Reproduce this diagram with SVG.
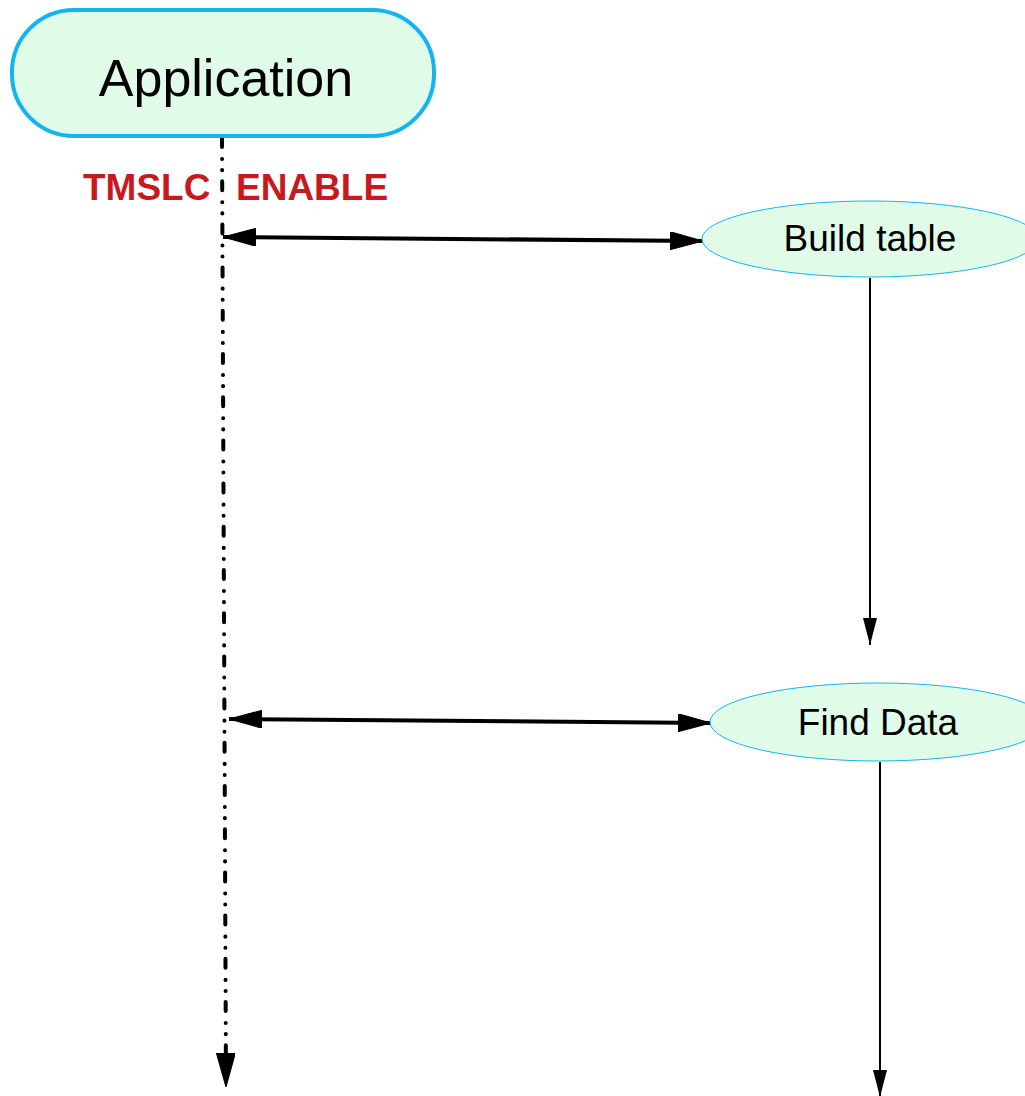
<svg xmlns="http://www.w3.org/2000/svg" width="1025" height="1096" viewBox="0 0 1025 1096">
<style>
.node{fill:#e0fce8;stroke:#14b4f0}
.lbl{font-family:"Liberation Sans",Arial,sans-serif;fill:#000;text-anchor:middle}
.red{font-family:"Liberation Sans",Arial,sans-serif;font-weight:bold;fill:#c8191e;font-size:37px}
.big{stroke:#000;stroke-width:4;fill:none}
.thin{stroke:#000;stroke-width:2;fill:none}
</style>
<defs>
<marker id="hb" markerUnits="userSpaceOnUse" viewBox="0 0 33 18" refX="33" refY="9" markerWidth="33" markerHeight="18" orient="auto-start-reverse">
<path d="M0,0 L33,9 L0,18 Z" fill="#000" stroke="#000" stroke-width="1" stroke-linejoin="round"/>
</marker>
<marker id="hs" markerUnits="userSpaceOnUse" viewBox="0 0 27 14" refX="27" refY="7" markerWidth="27" markerHeight="14" orient="auto">
<path d="M0,0 L27,7 L0,14 Z" fill="#000"/>
</marker>
<marker id="hl" markerUnits="userSpaceOnUse" viewBox="0 0 34 19" refX="34" refY="9.5" markerWidth="34" markerHeight="19" orient="auto">
<path d="M0,0 L34,9.5 L0,19 Z" fill="#000" stroke="#000" stroke-width="1" stroke-linejoin="round"/>
</marker>
</defs>
<g id="connectors">
<path d="M222,138 L226,1087" stroke="#000" stroke-width="4" fill="none" stroke-linecap="round" stroke-dasharray="9 12 0.1 11 0.1 11" marker-end="url(#hl)"/>
<path class="big" d="M223,237 L703,241" marker-start="url(#hb)" marker-end="url(#hb)"/>
<path class="big" d="M229,719 L711,723" marker-start="url(#hb)" marker-end="url(#hb)"/>
<path class="thin" d="M870,278 L870,645" marker-end="url(#hs)"/>
<path class="thin" d="M880,762 L880,1097" marker-end="url(#hs)"/>
</g>
<g id="application">
<rect class="node" x="12" y="10" width="422" height="126" rx="62" ry="62" stroke-width="4"/>
<text class="lbl" x="226" y="96" font-size="52">Application</text>
</g>
<g id="label-tmslc">
<text class="red" x="83" y="200">TMSLC</text>
<text class="red" x="236" y="200">ENABLE</text>
</g>
<g id="build-table">
<ellipse class="node" cx="870" cy="239" rx="168" ry="38" stroke-width="1"/>
<text class="lbl" x="870" y="251" font-size="37">Build table</text>
</g>
<g id="find-data">
<ellipse class="node" cx="878" cy="722" rx="168" ry="39" stroke-width="1"/>
<text class="lbl" x="878" y="735" font-size="37">Find Data</text>
</g>
</svg>
